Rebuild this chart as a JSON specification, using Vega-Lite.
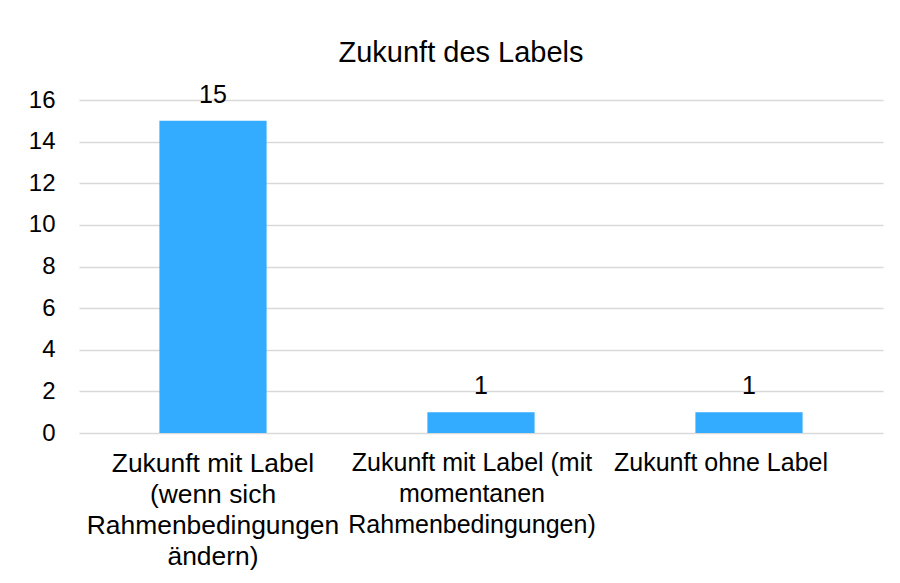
{
  "$schema": "https://vega.github.io/schema/vega-lite/v6.json",
  "autosize": {"type": "none"},
  "width": 804,
  "height": 333,
  "padding": {"left": 79, "top": 100, "right": 17, "bottom": 150},
  "background": "white",
  "title": {
    "text": "Zukunft des Labels",
    "font": "Liberation Sans",
    "fontSize": 29,
    "fontWeight": "normal",
    "color": "#000000",
    "anchor": "middle",
    "frame": "group",
    "baseline": "alphabetic",
    "offset": 26,
    "dx": -20,
    "dy": 34
  },
  "data": {
    "values": [
      {"kategorie": "Zukunft mit Label (wenn sich Rahmenbedingungen ändern)", "anzahl": 15},
      {"kategorie": "Zukunft mit Label (mit momentanen Rahmenbedingungen)", "anzahl": 1},
      {"kategorie": "Zukunft ohne Label", "anzahl": 1}
    ]
  },
  "encoding": {
    "x": {
      "field": "kategorie",
      "type": "nominal",
      "sort": null,
      "scale": {"paddingInner": 0.6, "paddingOuter": 0.3},
      "axis": {
        "title": null,
        "labelAngle": 0,
        "domain": false,
        "ticks": false,
        "labelFont": "Liberation Sans",
        "labelFontSize": {
          "condition": {"test": "datum.value == 'Zukunft mit Label (wenn sich Rahmenbedingungen ändern)'", "value": 26.4},
          "value": 25
        },
        "labelOffset": {
          "condition": [
            {"test": "datum.value == 'Zukunft ohne Label'", "value": -28},
            {"test": "datum.value == 'Zukunft mit Label (mit momentanen Rahmenbedingungen)'", "value": -9}
          ],
          "value": 0
        },
        "labelColor": "#000000",
        "labelPadding": 17,
        "labelLineHeight": 31,
        "labelLimit": 400,
        "labelBaseline": "top",
        "labelExpr": "datum.value == 'Zukunft mit Label (wenn sich Rahmenbedingungen ändern)' ? ['Zukunft mit Label', '(wenn sich', 'Rahmenbedingungen', 'ändern)'] : datum.value == 'Zukunft mit Label (mit momentanen Rahmenbedingungen)' ? ['Zukunft mit Label (mit', 'momentanen', 'Rahmenbedingungen)'] : datum.value"
      }
    },
    "y": {
      "field": "anzahl",
      "type": "quantitative",
      "scale": {"domain": [0, 16], "nice": false},
      "axis": {
        "title": null,
        "values": [0, 2, 4, 6, 8, 10, 12, 14, 16],
        "domain": false,
        "ticks": false,
        "grid": true,
        "gridColor": "#D9D9D9",
        "gridWidth": 1.5,
        "labelFont": "Liberation Sans",
        "labelFontSize": 24,
        "labelColor": "#000000",
        "labelPadding": 24
      }
    }
  },
  "layer": [
    {"mark": {"type": "bar", "color": "#33ABFF"}},
    {
      "mark": {
        "type": "text",
        "font": "Liberation Sans",
        "fontSize": 25,
        "color": "#000000",
        "baseline": "alphabetic",
        "dy": -18
      },
      "encoding": {"text": {"field": "anzahl", "type": "quantitative"}}
    }
  ],
  "config": {"view": {"stroke": null}}
}
